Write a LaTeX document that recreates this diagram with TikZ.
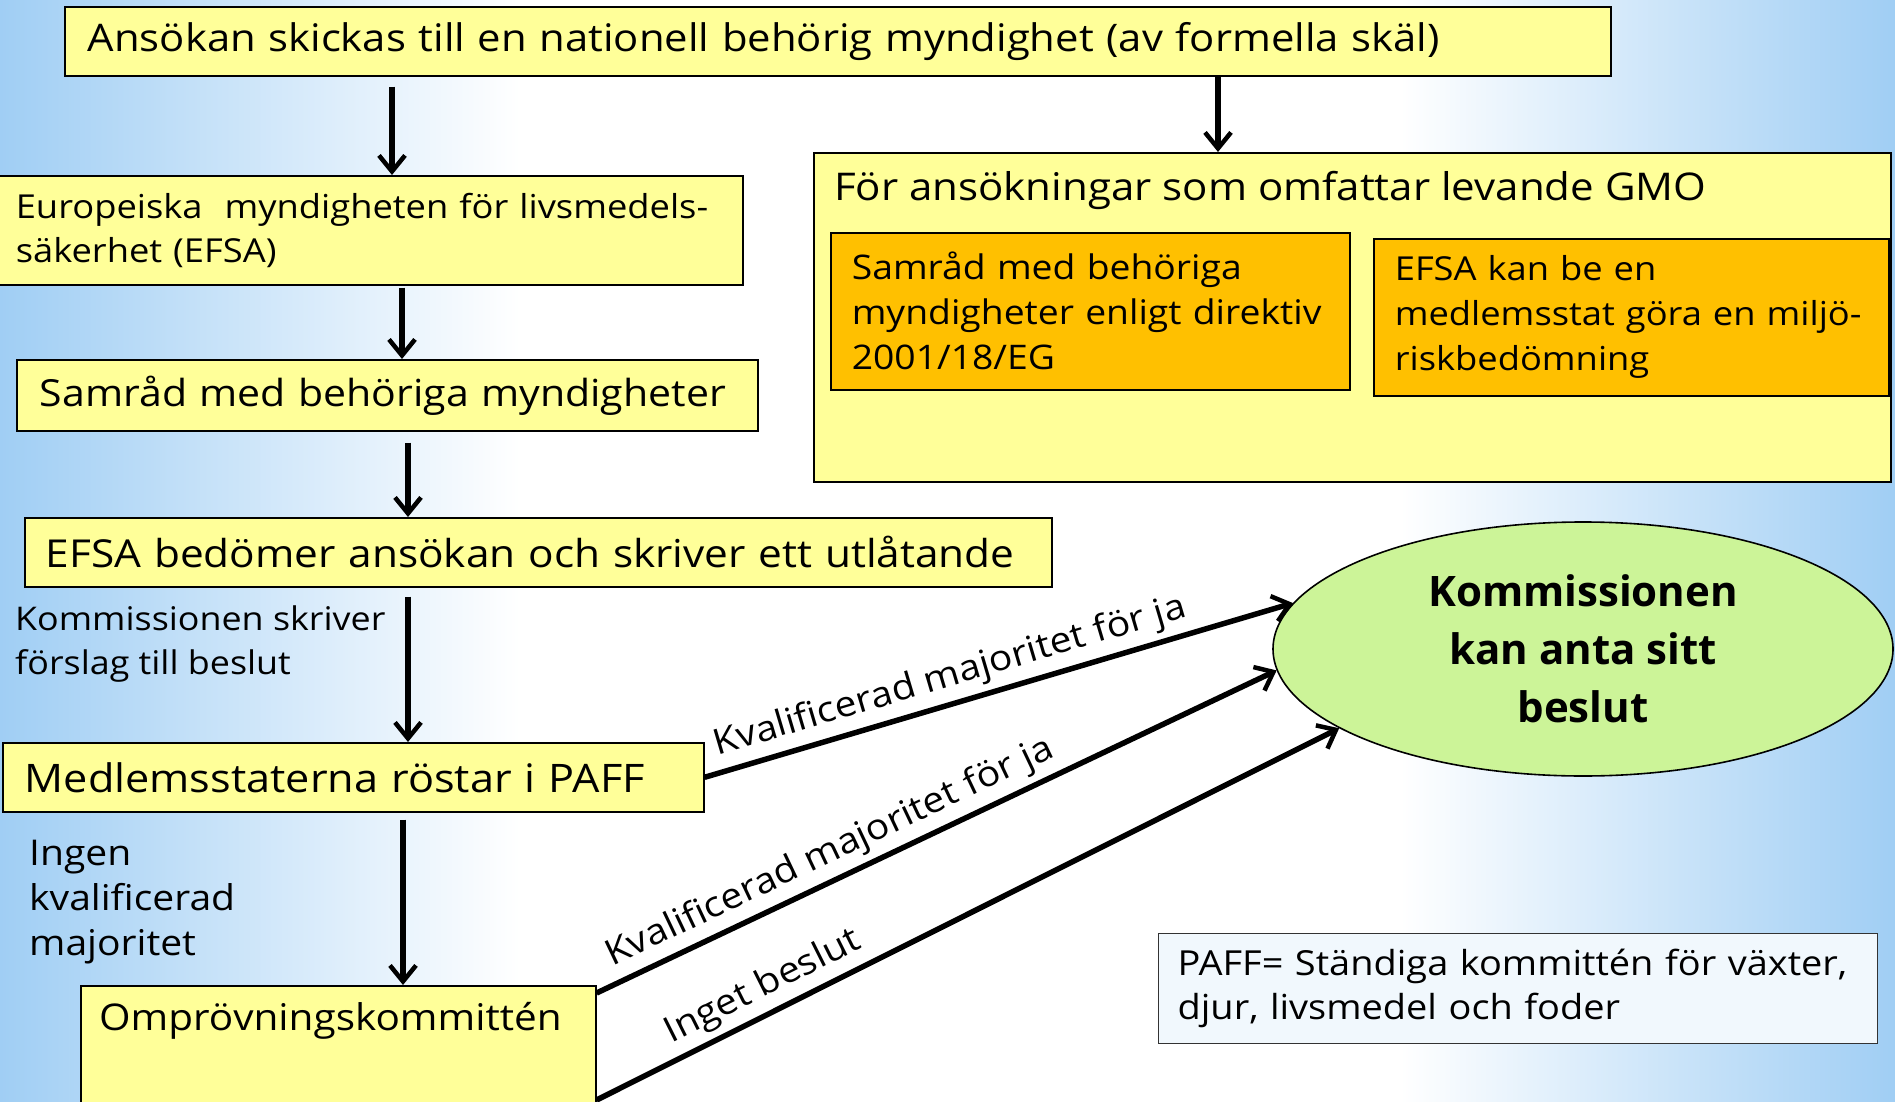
\documentclass[tikz,border=0pt]{standalone}
\usepackage{fontspec}
\setmainfont{Open Sans}[FakeStretch=1.1]
\newfontfamily\ellfont{Open Sans}
\usetikzlibrary{arrows.meta,shapes.geometric,calc}
\definecolor{bgblue}{RGB}{160,206,244}
\definecolor{boxyellow}{RGB}{255,255,153}
\definecolor{boxorange}{RGB}{255,192,0}
\definecolor{ellgreen}{RGB}{204,244,152}
\newcommand{\myfs}[2]{\fontsize{#1}{#2}\selectfont}
\tikzset{
  box/.style={draw=black, line width=1.6pt, fill=boxyellow, anchor=north west, inner ysep=0pt, align=left},
  obox/.style={box, fill=boxorange},
  arr/.style={line width=5.5pt, -{Straight Barb[length=16pt,width=26pt,line width=4.5pt]}},
  lbl/.style={inner sep=0pt, anchor=west, align=left},
  along/.style={sloped, above, inner sep=6pt, font=\myfs{35.5}{42}}
}
\begin{document}
\begin{tikzpicture}[x=1pt,y=-1pt]
\useasboundingbox (0,0) rectangle (1895,1102);
\shade[left color=bgblue, right color=white] (0,0) rectangle (520,1102);
\fill[white] (519,0) rectangle (1401,1102);
\shade[left color=white, right color=bgblue] (1400,0) rectangle (1895,1102);

% left column
\node[box, minimum width=1546pt, minimum height=69pt, inner xsep=23pt, text width=1500pt, font=\myfs{38}{46}] (top) at (64,6)
  {Ansökan skickas till en nationell behörig myndighet (av formella skäl)};
\node[box, minimum width=744pt, minimum height=109pt, inner xsep=17pt, text width=710pt, font=\myfs{33}{44}] (efsa) at (-2,175)
  {Europeiska\ \ myndigheten för livsmedels-\\säkerhet (EFSA)};
\node[box, minimum width=741pt, minimum height=71pt, inner xsep=23pt, text width=695pt, font=\myfs{37.3}{46}] (samrad) at (16,359)
  {Samråd med behöriga myndigheter};
\node[box, minimum width=1027pt, minimum height=69pt, inner xsep=21pt, text width=985pt, font=\myfs{38.5}{46}] (bedomer) at (24,517)
  {EFSA bedömer ansökan och skriver ett utlåtande};
\node[box, minimum width=701pt, minimum height=69pt, inner xsep=22pt, text width=657pt, font=\myfs{39.3}{46}] (med) at (2,742)
  {Medlemsstaterna röstar i PAFF};
\node[box, minimum width=515pt, minimum height=140pt, inner xsep=0pt] (omp) at (80,985) {};
\node[lbl, font=\myfs{36.8}{46}] (omptext) at (99,1021) {Omprövningskommittén};

\node[lbl, font=\myfs{32.6}{44}] (kom) at (15,644) {Kommissionen skriver\\förslag till beslut};
\node[lbl, font=\myfs{35.5}{45}] (ingen) at (29,902) {Ingen\\kvalificerad\\majoritet};

% GMO box
\node[box, minimum width=1077pt, minimum height=329pt, inner xsep=0pt] (gmo) at (813,152) {};
\node[lbl, font=\myfs{38.2}{46}] (gmotitle) at (834,190) {För ansökningar som omfattar levande GMO};
\node[obox, minimum width=519pt, minimum height=157pt, inner xsep=21pt, text width=477pt, font=\myfs{33.9}{45}] (or1) at (830,232)
  {Samråd med behöriga\\myndigheter enligt direktiv\\2001/18/EG};
\node[obox, minimum width=515pt, minimum height=157pt, inner xsep=21pt, text width=473pt, font=\myfs{33}{45}] (or2) at (1373,238)
  {EFSA kan be en\\medlemsstat göra en miljö-\\riskbedömning};

% ellipse
\node[ellipse, draw=black, line width=1.6pt, fill=ellgreen, minimum width=620pt, minimum height=254pt, inner sep=0pt, align=center, font=\ellfont\bfseries\myfs{42}{58}] (ell) at (1583,649)
  {Kommissionen\\kan anta sitt\\beslut};

% PAFF legend
\node[box, draw=black!80, line width=1.2pt, fill=white!85!bgblue, minimum width=719pt, minimum height=110pt, inner xsep=19pt, text width=681pt, font=\myfs{34.5}{44}] (paff) at (1158,933)
  {PAFF= Ständiga kommittén för växter,\\djur, livsmedel och foder};

% vertical arrows
\draw[arr, shorten <=10pt] (392,0 |- top.south) -- (392,0 |- efsa.north);
\draw[arr] (1218,0 |- top.south) -- (1218,0 |- gmo.north);
\draw[arr, shorten <=2pt] (402,0 |- efsa.south) -- (402,0 |- samrad.north);
\draw[arr, shorten <=11pt] (408,0 |- samrad.south) -- (408,0 |- bedomer.north);
\draw[arr, shorten <=9pt] (408,0 |- bedomer.south) -- (408,0 |- med.north);
\draw[arr, shorten <=7pt] (403,0 |- med.south) -- (403,0 |- omp.north);

% arrows to ellipse
\draw[arr] (med.east) -- node[along, pos=0.43] {Kvalificerad majoritet för ja} (ell.171);
\draw[arr] ($(omp.north east)+(0,8)$) -- node[along, pos=0.36] {Kvalificerad majoritet för ja} (ell.184);
\draw[arr] ($(omp.north east)+(0,115)$) -- node[along, pos=0.24] {Inget beslut} (ell.198);
\end{tikzpicture}
\end{document}
